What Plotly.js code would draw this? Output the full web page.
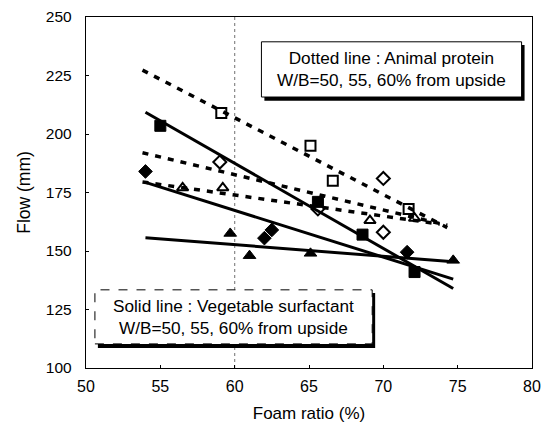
<!DOCTYPE html>
<html>
<head>
<meta charset="utf-8">
<script src="https://cdn.plot.ly/plotly-3.0.1.min.js"></script>
<style>html,body{margin:0;padding:0;background:#fff;}#chart{width:550px;height:432px;}</style>
</head>
<body>
<div id="chart"></div>
<script>
// Measured points (Foam ratio %, Flow mm)
const foamSqFill = [55.0, 65.6, 68.6, 72.1];
const flowSqFill = [203.5, 171, 157, 141];
const foamSqOpen = [59.1, 65.1, 66.6, 71.7];
const flowSqOpen = [209, 195, 180, 168];
const foamDiOpen = [59.0, 65.6, 70.0, 70.0];
const flowDiOpen = [188, 168, 181, 158];
const foamDiFill = [54.0, 62.0, 62.5, 71.6];
const flowDiFill = [184, 155.5, 159, 149.5];
const foamTrOpen = [56.5, 59.2, 69.1, 72.1];
const flowTrOpen = [177, 177, 163, 164];
const foamTrFill = [59.7, 61.0, 65.1, 74.7];
const flowTrFill = [157.5, 148, 149, 146];

// Trend line end points
const solid50X = [54.0, 74.7], solid50Y = [209.3, 134];
const solid55X = [54.0, 74.7], solid55Y = [179.3, 138];
const solid60X = [54.0, 74.5], solid60Y = [155.7, 145.5];
const dot50X = [53.8, 74.3], dot50Y = [227.3, 160];
const dot55X = [53.8, 74.3], dot55Y = [192, 161];
const dot60X = [53.8, 73.8], dot60Y = [179.5, 161.5];

const xTicks = [50, 55, 60, 65, 70, 75, 80];
const yTicks = [100, 125, 150, 175, 200, 225, 250];

const dashStyle = {color: '#000', width: 3.5, dash: '6px,7px'};
const solidStyle = {color: '#000', width: 3};

function line(x, y, style) {
  return {x: x, y: y, mode: 'lines', line: style, hoverinfo: 'skip', showlegend: false};
}
function pts(x, y, symbol, size, lw) {
  return {x: x, y: y, mode: 'markers', showlegend: false,
    marker: {symbol: symbol, size: size, color: '#000', line: {color: '#000', width: lw}}};
}

const traces = [
  line(dot50X, dot50Y, dashStyle),
  line(dot55X, dot55Y, dashStyle),
  line(dot60X, dot60Y, dashStyle),
  line(solid50X, solid50Y, solidStyle),
  line(solid55X, solid55Y, solidStyle),
  line(solid60X, solid60Y, solidStyle),
  pts(foamSqOpen, flowSqOpen, 'square-open', 10, 2),
  pts(foamDiOpen, flowDiOpen, 'diamond-open', 10, 2),
  pts(foamTrOpen, flowTrOpen, 'triangle-up-open', 10, 2),
  pts(foamSqFill, flowSqFill, 'square', 11, 1),
  pts(foamDiFill, flowDiFill, 'diamond', 10.5, 1),
  pts(foamTrFill, flowTrFill, 'triangle-up', 11, 1)
];

const font = 'Liberation Sans, Arial, sans-serif';

const layout = {
  width: 550, height: 432,
  margin: {l: 86, r: 18, t: 17, b: 64},
  paper_bgcolor: '#fff', plot_bgcolor: '#fff',
  font: {family: font, color: '#000'},
  xaxis: {range: [50, 80], tickvals: xTicks, ticktext: xTicks.map(String),
    showgrid: false, zeroline: false, showline: true, mirror: true,
    linecolor: '#000', linewidth: 1.2, ticks: 'inside', ticklen: 3, tickcolor: '#000',
    tickfont: {size: 16}, ticklabelstandoff: 4,
    title: {text: 'Foam ratio (%)', font: {size: 17}, standoff: 12}},
  yaxis: {range: [100, 250], tickvals: yTicks, ticktext: yTicks.map(String),
    showgrid: false, zeroline: false, showline: true, mirror: true,
    linecolor: '#000', linewidth: 1.2, ticks: 'inside', ticklen: 3, tickcolor: '#000',
    tickfont: {size: 15.5}, ticklabelstandoff: 10,
    title: {text: 'Flow (mm)', font: {size: 17.5}, standoff: 10}},
  shapes: [
    {type: 'line', xref: 'x', yref: 'paper', x0: 60, x1: 60, y0: 0, y1: 1, layer: 'below',
      line: {color: '#888', width: 1.2, dash: 'dot'}},
    // top note box: shadow then box
    {type: 'rect', xref: 'x', yref: 'y', x0: 62.0, x1: 79.5, y0: 214.2, y1: 238, layer: 'above',
      fillcolor: '#000', line: {width: 0}},
    {type: 'rect', xref: 'x', yref: 'y', x0: 61.8, x1: 79.3, y0: 215.8, y1: 239.4, layer: 'above',
      fillcolor: '#fff', line: {color: '#000', width: 1}},
    // bottom note box
    {type: 'rect', xref: 'x', yref: 'y', x0: 50.8, x1: 69.45, y0: 108.6, y1: 132, layer: 'above',
      fillcolor: '#000', line: {width: 0}},
    {type: 'rect', xref: 'x', yref: 'y', x0: 50.6, x1: 69.25, y0: 110.3, y1: 133.4, layer: 'above',
      fillcolor: '#fff', line: {color: '#000', width: 1, dash: 'dash'}}
  ],
  annotations: [
    {xref: 'x', yref: 'y', x: 70.55, y: 227.6, showarrow: false, align: 'center',
      text: 'Dotted line : Animal protein<br>W/B=50, 55, 60% from upside',
      font: {size: 17.2, family: font, color: '#000'}},
    {xref: 'x', yref: 'y', x: 59.9, y: 121.8, showarrow: false, align: 'center',
      text: 'Solid line : Vegetable surfactant<br>W/B=50, 55, 60% from upside',
      font: {size: 17.2, family: font, color: '#000'}}
  ]
};

Plotly.newPlot('chart', traces, layout, {displayModeBar: false, staticPlot: true});
</script>
</body>
</html>
